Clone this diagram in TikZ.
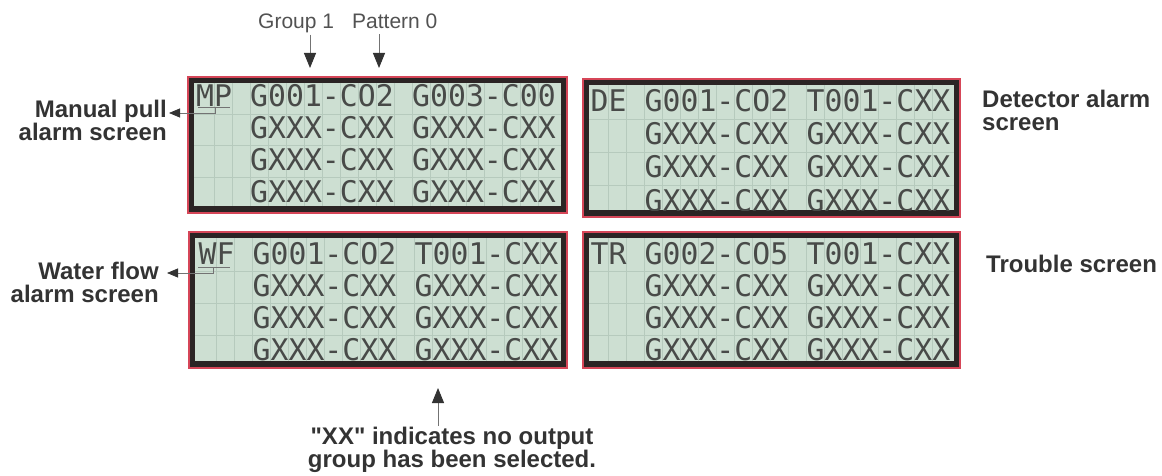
\documentclass[tikz,border=0pt]{standalone}
\usepackage{fontspec}
\setmainfont{Liberation Sans}[Ligatures=TeXOff]
\newfontfamily\lcdfont{DejaVu Sans Mono}
\usetikzlibrary{arrows.meta}
\definecolor{lcdfill}{RGB}{205,223,210}
\definecolor{lcdline}{RGB}{182,202,189}
\definecolor{lcdink}{RGB}{72,74,72}
\definecolor{frame}{RGB}{43,36,36}
\definecolor{rim}{RGB}{214,70,88}
\definecolor{labink}{RGB}{51,51,51}
\definecolor{ptrgray}{RGB}{115,115,115}

\begin{document}
\begin{tikzpicture}[x=1pt, y=-1pt,
        lbl/.style={inner sep=1pt, text=labink, font=\bfseries\fontsize{24}{23}\selectfont},
        tag/.style={anchor=base west, inner sep=1pt, text=labink!85!white, font=\fontsize{21}{22}\selectfont},
        lcd/.style={anchor=base west, inner sep=0pt, text=lcdink, font=\lcdfont\fontsize{29.8}{30}\selectfont},
        cell/.style={draw=lcdline, line width=0.9pt},
        ptr/.style={draw=ptrgray, line width=0.9pt, -{Triangle[length=15pt, width=12pt, color=labink]}},
        ptrs/.style={draw=ptrgray, line width=0.8pt, -{Triangle[length=11pt, width=9pt, color=labink]}}]
    \useasboundingbox (0,0) rectangle (1162,476);
    % four LCD screens, 20 x 4 characters
    \foreach \p/\xa/\ya/\xb/\yb/\cx/\by/\dy/\mode/\ta/\tb in {
            mp/188/77/567/213/196/107/31.7/MP/G001-CO2/G003-C00,
            de/583/79/960/217/590.5/112/33/DE/G001-CO2/T001-CXX,
            wf/189/232/567/368/198.5/264/32/WF/G001-CO2/T001-CXX,
            tr/583/232/960/368/590.5/264/32/TR/G002-CO5/T001-CXX} {
        \draw[draw=rim, fill=frame, line width=1.6pt] (\xa,\ya) rectangle (\xb,\yb);
        \fill[lcdfill] (\xa+6,\ya+6) rectangle (\xb-6,\yb-7);
        \foreach \k in {1,...,19}
            \draw[cell] (\cx+\k*18,\ya+6) -- (\cx+\k*18,\yb-7);
        \foreach \k in {0,1,2}
            \draw[cell] (\xa+6,\by+7+\k*\dy) -- (\xb-6,\by+7+\k*\dy);
        \begin{scope}
            \clip (\xa+6,\ya+6) rectangle (\xb-6,\yb-7);
            \node[lcd] (\p-mode) at (\cx,\by) {\mode};
            \node[lcd] (\p-a1) at (\cx+54,\by) {\ta};
            \node[lcd] (\p-b1) at (\cx+216,\by) {\tb};
            \foreach \r in {2,3,4} {
                \node[lcd] (\p-a\r) at (\cx+54,\by+\r*\dy-\dy) {GXXX-CXX};
                \node[lcd] (\p-b\r) at (\cx+216,\by+\r*\dy-\dy) {GXXX-CXX};
            }
        \end{scope}
    }
    % labels
    \node[lbl, anchor=north east, align=right] (mplab) at (168,98.5) {Manual pull\\alarm screen};
    \node[lbl, anchor=north east, align=right] (wflab) at (160,260.5) {Water flow\\alarm screen};
    \node[lbl, anchor=north west, align=left] (delab) at (981,88.5) {Detector alarm\\screen};
    \node[lbl, anchor=base west] (trlab) at (985,272) {Trouble screen};
    \node[lbl, anchor=north, align=center] (xxlab) at (452,426) {"XX" indicates no output\\group has been selected.};
    \node[tag] (g1) at (257,29) {Group 1};
    \node[tag] (p0) at (351,29) {Pattern 0};
    % pointers
    \coordinate (g1tip) at (310,68);
    \coordinate (p0tip) at (379,68);
    \coordinate (xxtip) at (438,388);
    \draw[ptr] (g1.south -| g1tip) -- (g1tip);
    \draw[ptr, shorten <=4pt] (p0.south -| p0tip) -- (p0tip);
    \draw[ptr] (xxlab.north -| xxtip) -- (xxtip);
    \coordinate (mpmark) at (215,107);
    \coordinate (mptip) at (169,113);
    \coordinate (wfmark) at (213,267);
    \coordinate (wftip) at (167,273);
    \draw[ptrgray, line width=0.8pt] (198,107) -- (230,107);
    \draw[ptrgray, line width=0.8pt] (198,267) -- (230,267);
    \draw[ptrs] (mpmark) |- (mptip);
    \draw[ptrs] (wfmark) |- (wftip);
\end{tikzpicture}
\end{document}
